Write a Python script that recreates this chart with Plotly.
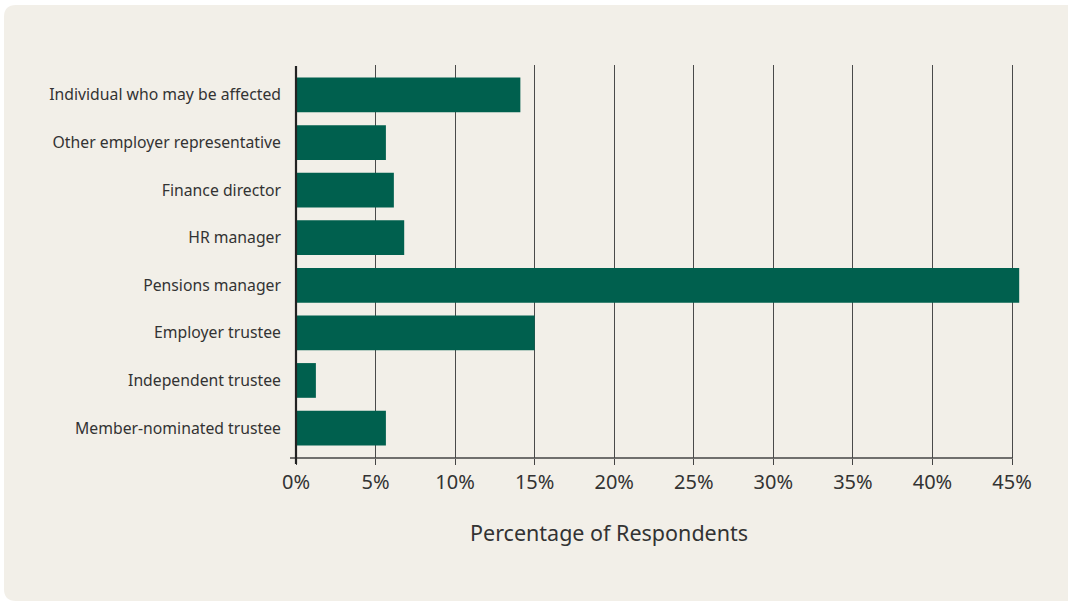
import plotly.graph_objects as go

# Survey: role of respondents
categories = [
    "Individual who may be affected",
    "Other employer representative",
    "Finance director",
    "HR manager",
    "Pensions manager",
    "Employer trustee",
    "Independent trustee",
    "Member-nominated trustee",
]
percentages = [14.1, 5.65, 6.15, 6.8, 45.45, 15.0, 1.25, 5.65]
tick_values = [0, 5, 10, 15, 20, 25, 30, 35, 40, 45]
tick_labels = ["0%", "5%", "10%", "15%", "20%", "25%", "30%", "35%", "40%", "45%"]

W, H = 1068, 602
L, R, T, B = 296, 1020, 65, 458  # plot area in pixels
FONT = "Noto Sans"
TEXT = "#333333"
BAR = "#00604e"
PANEL = "#f2efe8"


def px(x):
    return (x - L) / (R - L)


def py(y):
    return (B - y) / (B - T)


def pt(x, y):
    return f"{px(x):.5f},{py(y):.5f}"


# rounded beige panel behind the chart
r = 12
panel_path = (
    f"M {pt(4, 5 + r)} L {pt(4, 601 - r)} Q {pt(4, 601)} {pt(4 + r, 601)} "
    f"L {pt(1090, 601)} L {pt(1090, 5)} L {pt(4 + r, 5)} Q {pt(4, 5)} {pt(4, 5 + r)} Z"
)

fig = go.Figure(
    go.Bar(
        x=percentages,
        y=categories,
        orientation="h",
        marker=dict(color=BAR, line=dict(width=0)),
        hoverinfo="skip",
    )
)

fig.update_layout(
    width=W,
    height=H,
    autosize=False,
    margin=dict(l=L, r=W - R, t=T, b=H - B, pad=0),
    paper_bgcolor="white",
    plot_bgcolor="rgba(0,0,0,0)",
    bargap=0.27,
    showlegend=False,
    font=dict(family=FONT, color=TEXT),
    shapes=[
        dict(type="path", path=panel_path, xref="paper", yref="paper",
             fillcolor=PANEL, line=dict(width=0), layer="below"),
        # x axis baseline
        dict(type="line", xref="paper", yref="paper",
             x0=px(290), x1=px(1013), y0=0, y1=0,
             line=dict(color="#444444", width=1.5), layer="above"),
        # y axis line
        dict(type="line", xref="paper", yref="paper",
             x0=0, x1=0, y0=py(66), y1=py(464),
             line=dict(color="#222222", width=2.2), layer="above"),
    ],
    annotations=[
        dict(text="Percentage of Respondents", xref="paper", yref="paper",
             x=px(608.5), y=py(532), xanchor="center", yanchor="middle",
             showarrow=False, font=dict(family=FONT, size=21.5, color=TEXT)),
    ],
)

fig.update_xaxes(
    range=[0, 45.5],
    tickvals=tick_values,
    ticktext=tick_labels,
    showgrid=True,
    gridcolor="#4a4a4a",
    gridwidth=1.2,
    zeroline=False,
    showline=False,
    ticks="outside",
    ticklen=6,
    tickwidth=1.2,
    tickcolor="#444444",
    tickfont=dict(family=FONT, size=20, color=TEXT),
    fixedrange=True,
)

fig.update_yaxes(
    categoryorder="array",
    categoryarray=categories,
    range=[7.63, -0.63],
    showgrid=False,
    zeroline=False,
    showline=False,
    ticks="",
    ticklabelstandoff=14,
    tickfont=dict(family=FONT, size=15.75, color=TEXT),
    fixedrange=True,
)

fig.write_html("out.html", config={"displayModeBar": False})
